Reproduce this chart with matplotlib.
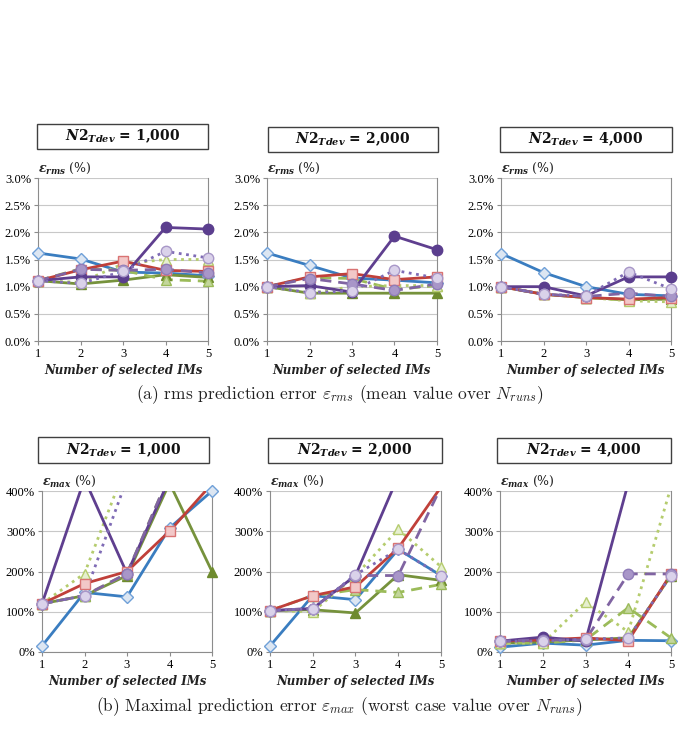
import matplotlib
matplotlib.use("Agg")
import matplotlib.pyplot as plt
from matplotlib.patches import Rectangle
from matplotlib.ticker import PercentFormatter

plt.rcParams['mathtext.fontset'] = 'custom'
plt.rcParams['mathtext.it'] = 'DejaVu Serif:italic:bold'
plt.rcParams['mathtext.rm'] = 'DejaVu Serif:bold'
plt.rcParams['mathtext.bf'] = 'DejaVu Serif:bold'

# number of selected IMs
n_ims = [1, 2, 3, 4, 5]
n2_labels = ["1,000", "2,000", "4,000"]

# series order: blue, red, purple solid, purple dashed, purple dotted,
#               green solid, green dashed, green dotted
# rms error (%), mean over N_runs
rms_1000 = [[1.62, 1.51, 1.27, 1.25, 1.20],
            [1.11, 1.31, 1.47, 1.30, 1.28],
            [1.11, 1.18, 1.18, 2.09, 2.06],
            [1.11, 1.32, 1.30, 1.32, 1.25],
            [1.11, 1.06, 1.28, 1.65, 1.53],
            [1.11, 1.05, 1.12, 1.22, 1.17],
            [1.11, 1.33, 1.30, 1.13, 1.10],
            [1.11, 1.08, 1.42, 1.50, 1.50]]
rms_2000 = [[1.62, 1.39, 1.16, 1.12, 1.07],
            [1.00, 1.18, 1.24, 1.13, 1.18],
            [1.00, 1.02, 0.90, 1.93, 1.68],
            [1.00, 1.15, 1.05, 0.93, 1.05],
            [1.00, 0.89, 0.92, 1.30, 1.16],
            [1.00, 0.88, 0.88, 0.88, 0.88],
            [1.00, 1.17, 1.15, 0.95, 1.02],
            [1.00, 0.88, 1.00, 1.02, 1.02]]
rms_4000 = [[1.61, 1.26, 1.00, 0.86, 0.83],
            [1.00, 0.86, 0.80, 0.77, 0.80],
            [1.00, 1.00, 0.83, 1.18, 1.18],
            [1.00, 0.86, 0.82, 0.88, 0.82],
            [1.00, 0.86, 0.83, 1.27, 0.96],
            [1.00, 0.86, 0.80, 0.76, 0.77],
            [1.00, 0.86, 0.80, 0.75, 0.80],
            [1.00, 0.86, 0.80, 0.74, 0.72]]
# max error (%), worst case over N_runs (values above 400% are off-scale)
max_1000 = [[15, 148, 137, 308, 400],
            [120, 170, 200, 300, 418],
            [120, 430, 195, 430, 500],
            [120, 140, 195, 440, 500],
            [120, 140, 430, 500, 500],
            [120, 140, 190, 420, 200],
            [120, 140, 195, 440, 500],
            [120, 195, 470, 500, 500]]
max_2000 = [[15, 140, 130, 255, 190],
            [103, 140, 162, 258, 410],
            [103, 108, 190, 437, 500],
            [103, 108, 190, 190, 410],
            [103, 108, 192, 255, 190],
            [103, 105, 97, 192, 178],
            [103, 140, 155, 148, 168],
            [103, 100, 190, 305, 212]]
max_4000 = [[12, 22, 17, 29, 28],
            [27, 30, 35, 28, 194],
            [27, 37, 27, 420, 500],
            [27, 30, 30, 194, 194],
            [27, 27, 32, 35, 190],
            [22, 25, 30, 35, 190],
            [22, 22, 30, 110, 35],
            [22, 22, 124, 50, 410]]

styles = [
    dict(color='#3A7DC0', ls='-', marker='D', mfc='#DCE6F2', mec='#6FA0D8', ms=6.5),
    dict(color='#C0403A', ls='-', marker='s', mfc='#F2C8C8', mec='#D97373', ms=7.5),
    dict(color='#5F3F8F', ls='-', marker='o', mfc='#5B3E8E', mec='#5B3E8E', ms=7.5),
    dict(color='#8064A2', ls=(0, (4, 2.5)), marker='o', mfc='#A896C8', mec='#8F7CB8', ms=7.5),
    dict(color='#7F6BB5', ls=':', marker='o', mfc='#DAD2EA', mec='#A897C8', ms=7.5),
    dict(color='#76923C', ls='-', marker='^', mfc='#6E8B2E', mec='#6E8B2E', ms=7.5),
    dict(color='#9BBB59', ls=(0, (4, 2.5)), marker='^', mfc='#C3D69B', mec='#9BBB59', ms=7.5),
    dict(color='#B5CC6E', ls=':', marker='^', mfc='#E6EFD0', mec='#B5CC6E', ms=7.5),
]
draw_order = [0, 5, 6, 7, 1, 2, 3, 4]

W, H = 679, 733
fig = plt.figure(figsize=(W / 100, H / 100), dpi=100)


def fig_rect(x0, y0, x1, y1):
    return [x0 / W, 1 - y1 / H, (x1 - x0) / W, (y1 - y0) / H]


def draw_panel(ax_px, box_px, data, label, n2, is_max):
    ax = fig.add_axes(fig_rect(*ax_px))
    top = 400 if is_max else 3.0
    for i in draw_order:
        st = styles[i]
        ax.plot(n_ims, data[i], color=st['color'], ls=st['ls'], lw=2.0)
        # markers drawn unclipped so the ones on x=1 / x=5 are whole
        xs = [x for x, v in zip(n_ims, data[i]) if v <= top]
        ys = [v for v in data[i] if v <= top]
        ax.plot(xs, ys, ls='none', marker=st['marker'], mfc=st['mfc'],
                mec=st['mec'], ms=st['ms'], mew=1.0, clip_on=False, zorder=3)
    ax.set_xlim(1, 5)
    ax.set_xticks(n_ims)
    if is_max:
        ax.set_ylim(0, 400)
        ax.set_yticks([0, 100, 200, 300, 400])
        ax.yaxis.set_major_formatter(PercentFormatter(decimals=0))
    else:
        ax.set_ylim(0, 3.0)
        ax.set_yticks([0, 0.5, 1.0, 1.5, 2.0, 2.5, 3.0])
        ax.yaxis.set_major_formatter(PercentFormatter(decimals=1))
    ax.grid(axis='y', color='#C8C8C8', lw=0.8)
    ax.set_axisbelow(True)
    ax.spines['top'].set_visible(False)
    for s in ['left', 'bottom', 'right']:
        ax.spines[s].set_color('#8C8C8C')
    ax.tick_params(axis='both', length=3, color='#8C8C8C', labelsize=9,
                   pad=2)
    for t in ax.get_xticklabels() + ax.get_yticklabels():
        t.set_fontfamily('Liberation Serif')
    ax.set_xlabel('Number of selected IMs', fontfamily='DejaVu Serif',
                  fontstyle='italic', fontweight='bold', fontsize=8.5,
                  labelpad=3, color='#222222')
    ax.text(0, 1.015, label + ' (%)', transform=ax.transAxes,
            fontfamily='DejaVu Serif', fontsize=9, ha='left', va='bottom',
            color='#222222')
    # boxed title
    x0, y0, x1, y1 = box_px
    r = fig_rect(x0, y0, x1, y1)
    fig.add_artist(Rectangle((r[0], r[1]), r[2], r[3], transform=fig.transFigure,
                             fill=False, ec='#404040', lw=1.0))
    fig.text(r[0] + r[2] / 2, r[1] + r[3] / 2,
             r'$N2_{Tdev}$ = ' + n2, ha='center', va='center',
             fontfamily='DejaVu Serif', fontweight='bold', fontsize=10,
             color='#111111')
    return ax


rms_sets = [rms_1000, rms_2000, rms_4000]
max_sets = [max_1000, max_2000, max_4000]
top_axes = [(38, 178, 208, 341), (267, 178, 437, 341), (501, 178, 671, 341)]
top_boxes = [(37, 124, 208, 149), (268, 127, 438, 152), (500, 127, 672, 152)]
bot_axes = [(42, 491, 212, 652), (270, 491, 441, 652), (500, 491, 671, 652)]
bot_boxes = [(38, 437, 209, 463), (268, 438, 442, 463), (497, 438, 671, 463)]

for k in range(3):
    draw_panel(top_axes[k], top_boxes[k], rms_sets[k], r'$ε_{rms}$',
               n2_labels[k], False)
    draw_panel(bot_axes[k], bot_boxes[k], max_sets[k], r'$ε_{max}$',
               n2_labels[k], True)

fig.text(0.5, 1 - 395 / H,
         r'(a) rms prediction error $\varepsilon_{rms}$ (mean value over $N_{runs}$)',
         ha='center', va='center', fontfamily='cmr10', math_fontfamily='cm',
         fontsize=12.5, color='#222222')
fig.text(0.5, 1 - 707 / H,
         r'(b) Maximal prediction error $\varepsilon_{max}$ (worst case value over $N_{runs}$)',
         ha='center', va='center', fontfamily='cmr10', math_fontfamily='cm',
         fontsize=12.5, color='#222222')

fig.savefig('out.png', dpi=100, facecolor='white')
